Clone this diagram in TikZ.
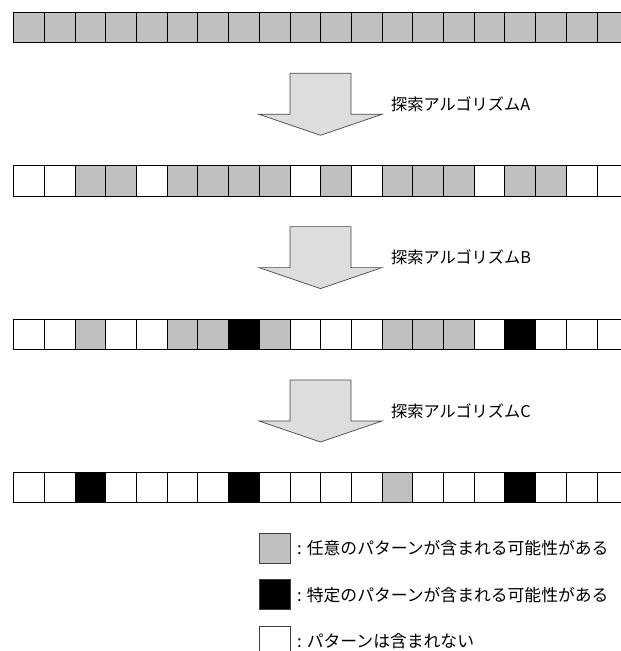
\documentclass[tikz,border=0pt]{standalone}
\usepackage{fontspec}
\newfontfamily\jp{Noto Sans CJK JP}
\definecolor{cG}{RGB}{192,192,192}
\definecolor{cW}{RGB}{255,255,255}
\definecolor{cB}{RGB}{0,0,0}
\definecolor{arrowfill}{RGB}{221,221,221}
\definecolor{arrowline}{RGB}{70,70,70}
\begin{document}
\begin{tikzpicture}[x=1pt,y=-1pt,
  cell/.style={draw=black,line width=0.9pt,minimum width=30.7pt,minimum height=30.5pt,inner sep=0pt,outer sep=0pt,anchor=north west},
  bigarrow/.style={fill=arrowfill,draw=arrowline,line width=0.7pt,line join=miter},
  steplabel/.style={font=\jp\fontsize{16.2}{19}\selectfont,anchor=west,inner sep=0pt},
  legendbox/.style={draw=black!75,line width=0.9pt,minimum width=31pt,minimum height=30.5pt,inner sep=0pt,outer sep=0pt,anchor=north west},
  legendtext/.style={font=\jp\fontsize{16.8}{20}\selectfont,anchor=west,inner sep=0pt}]
\useasboundingbox (0,0) rectangle (621,651);
\clip (0,0) rectangle (621,651);
\fill[white] (0,0) rectangle (621,651);
% rows of cells
\foreach \r/\y/\pat in {
  1/12.3/{cG,cG,cG,cG,cG,cG,cG,cG,cG,cG,cG,cG,cG,cG,cG,cG,cG,cG,cG,cG},
  2/165.7/{cW,cW,cG,cG,cW,cG,cG,cG,cG,cW,cG,cW,cG,cG,cG,cW,cG,cG,cW,cW},
  3/319/{cW,cW,cG,cW,cW,cG,cG,cB,cG,cW,cW,cW,cG,cG,cG,cW,cB,cW,cW,cW},
  4/472.3/{cW,cW,cB,cW,cW,cW,cW,cB,cW,cW,cW,cW,cG,cW,cW,cW,cB,cW,cW,cW}}{
  \foreach \c [count=\i] in \pat {
    \node[cell,fill=\c] (r\r-\i) at ({13.7+(\i-1)*30.7},\y) {};
  }
}
% arrows
\foreach \t/\lab in {73.3/A,226.6/B,380/C}{
  \draw[bigarrow] (290,\t) -- (351,\t) -- (351,\t+41) -- (382,\t+41) -- (320.5,\t+62) -- (259,\t+41) -- (290,\t+41) -- cycle;
  \node[steplabel] (lab\lab) at (391,\t+31) {探索アルゴリズム\lab};
}
% legend
\node[legendbox,fill=cG] (legG) at (259,533.3) {};
\node[legendbox,fill=cB] (legB) at (259,579.3) {};
\node[legendbox,fill=cW] (legW) at (259,626) {};
\node[legendtext] (txtG) at (297,548.3) {: 任意のパターンが含まれる可能性がある};
\node[legendtext] (txtB) at (297,594.7) {: 特定のパターンが含まれる可能性がある};
\node[legendtext] (txtW) at (297,641) {: パターンは含まれない};
\end{tikzpicture}
\end{document}
